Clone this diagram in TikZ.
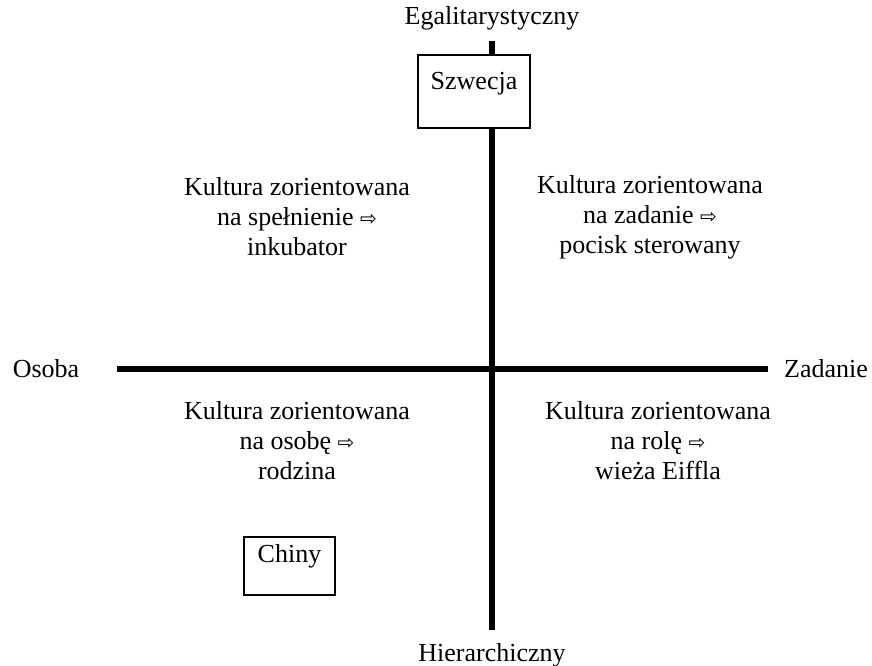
\documentclass[tikz,border=0pt]{standalone}
\usepackage{fontspec}
\setmainfont{Liberation Serif}
\newfontfamily\arrowfont{DejaVu Sans}
\newcommand{\warr}{{\arrowfont\fontsize{15pt}{15pt}\selectfont ⇨}}
\begin{document}
\begin{tikzpicture}[x=0.75pt,y=-0.75pt,
  lbl/.style={font=\fontsize{19.5pt}{22.5pt}\selectfont, inner sep=0pt},
  quad/.style={lbl, align=center},
  axis/.style={line width=4.5pt},
  cbox/.style={draw, line width=1pt, fill=white, inner sep=0pt}]
\useasboundingbox (0,0) rectangle (872,666);
\coordinate (vt) at (492,41);
\coordinate (vb) at (492,630);
\coordinate (hl) at (117,369);
\coordinate (hr) at (768,369);
\draw[axis] (vt) -- (vb);
\draw[axis] (hl) -- (hr);
\node[lbl] (eg) at (492,18) {Egalitarystyczny};
\node[lbl] (hi) at (492,655) {Hierarchiczny};
\node[lbl] (os) at (46,369) {Osoba};
\node[lbl] (za) at (826,369) {Zadanie};
\node[cbox, minimum width=112*0.75pt, minimum height=73*0.75pt] (sz) at (474,91.5) {};
\node[lbl] (szt) at (474,84) {Szwecja};
\node[cbox, minimum width=91*0.75pt, minimum height=58*0.75pt] (ch) at (289.5,566) {};
\node[lbl] (cht) at (289.5,556) {Chiny};
\node[quad] (ul) at (297,217) {Kultura zorientowana\\na spełnienie \warr\\inkubator};
\node[quad] (ur) at (650,217) {Kultura zorientowana\\na zadanie \warr\\pocisk sterowany};
\node[quad] (ll) at (297,441) {Kultura zorientowana\\na osobę \warr\\rodzina};
\node[quad] (lr) at (658,441) {Kultura zorientowana\\na rolę \warr\\wieża Eiffla};
\end{tikzpicture}
\end{document}
